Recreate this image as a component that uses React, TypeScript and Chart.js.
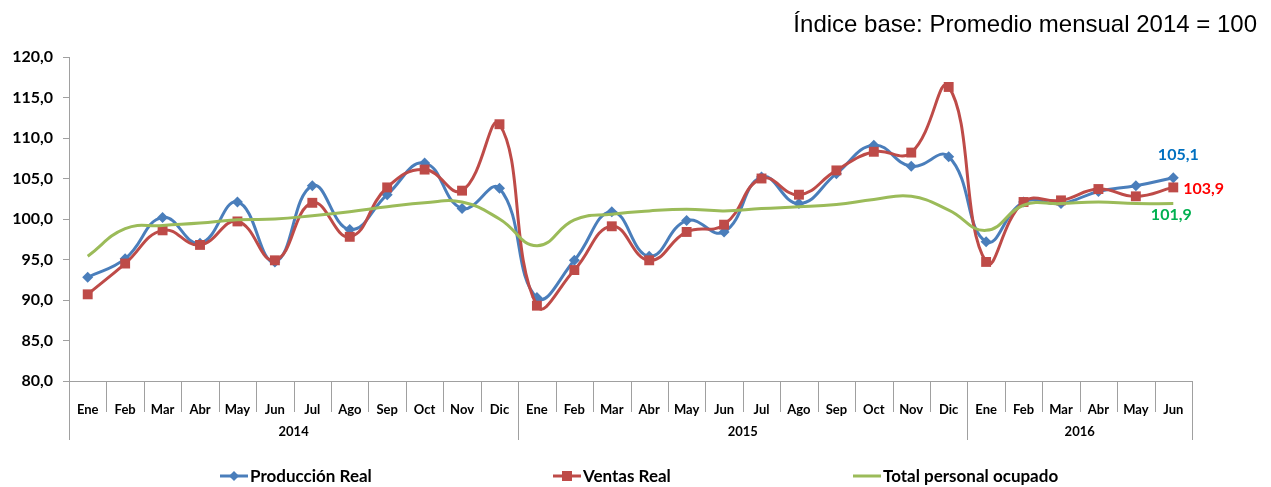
import { useEffect, useRef } from 'react';
import { Chart, registerables } from 'chart.js';

Chart.register(...registerables);

const months = [
  'Ene', 'Feb', 'Mar', 'Abr', 'May', 'Jun', 'Jul', 'Ago', 'Sep', 'Oct', 'Nov', 'Dic',
  'Ene', 'Feb', 'Mar', 'Abr', 'May', 'Jun', 'Jul', 'Ago', 'Sep', 'Oct', 'Nov', 'Dic',
  'Ene', 'Feb', 'Mar', 'Abr', 'May', 'Jun',
];
const years = ['2014', '2015', '2016'];
const yearSpans = [12, 12, 6];

const produccion = [
  92.8, 95.1, 100.2, 97.0, 102.1, 94.7, 104.1, 98.7, 103.0, 106.9, 101.3, 103.8,
  90.3, 94.9, 100.9, 95.4, 99.8, 98.4, 105.2, 101.9, 105.6, 109.1, 106.5, 107.7,
  97.2, 102.1, 101.9, 103.4, 104.1, 105.1,
];
const ventas = [
  90.7, 94.5, 98.6, 96.8, 99.7, 94.9, 102.0, 97.8, 103.9, 106.1, 103.5, 111.7,
  89.3, 93.7, 99.1, 94.9, 98.4, 99.3, 105.0, 103.0, 106.0, 108.3, 108.2, 116.3,
  94.7, 102.1, 102.3, 103.7, 102.8, 103.9,
];
const personal = [
  95.4, 98.8, 99.2, 99.5, 99.9, 100.0, 100.4, 100.9, 101.5, 102.0, 102.1, 100.0,
  96.7, 99.9, 100.6, 101.0, 101.2, 101.0, 101.3, 101.5, 101.8, 102.4, 102.8, 101.1,
  98.6, 101.7, 101.9, 102.1, 101.9, 101.9,
];

const seriesNames = ['Producción Real', 'Ventas Real', 'Total personal ocupado'];
const lastValueLabels = ['105,1', '103,9', '101,9'];
const subtitle = 'Índice base: Promedio mensual 2014 = 100';

const yMin = 80;
const yMax = 120;
const yStep = 5;

const lineColors = ['#4A7EBB', '#BE4B48', '#9BBB59'];
const labelColors = ['#0070C0', '#FF0000', '#00B050'];
const markerStyles = ['rectRot', 'rect', false];

const FONT = 'Lato, "Open Sans", sans-serif';

const overlayPlugin = {
  id: 'overlay',
  afterDraw(chart: any) {
    const { ctx, chartArea } = chart;
    const xs = chart.scales.x;
    const n = months.length;
    const w = xs.getPixelForValue(1) - xs.getPixelForValue(0);
    const boundary = (i: number) => xs.getPixelForValue(i) - w / 2;
    ctx.save();
    // month / year separators
    ctx.strokeStyle = '#A0A0A0';
    ctx.lineWidth = 1;
    const yearBounds = new Set<number>();
    let acc = 0;
    yearBounds.add(0);
    yearSpans.forEach((s) => { acc += s; yearBounds.add(acc); });
    for (let i = 0; i <= n; i++) {
      const px = Math.round(boundary(i)) + 0.5;
      const bottom = yearBounds.has(i) ? 440 : 412;
      ctx.beginPath();
      ctx.moveTo(px, chartArea.bottom);
      ctx.lineTo(px, bottom);
      ctx.stroke();
    }
    // year labels
    ctx.fillStyle = '#000';
    ctx.font = `bold 13px ${FONT}`;
    ctx.textAlign = 'center';
    ctx.textBaseline = 'middle';
    let start = 0;
    years.forEach((yr, k) => {
      const end = start + yearSpans[k];
      const cx = (boundary(start) + boundary(end)) / 2;
      ctx.fillText(yr, cx, 432);
      start = end;
    });

    // last-value labels
    ctx.font = `bold 16px ${FONT}`;
    const offsets = [[5, -23, 'center'], [10, 1, 'left'], [-2, 11, 'center']];
    chart.data.datasets.forEach((ds: any, i: number) => {
      const meta = chart.getDatasetMeta(i);
      const pt = meta.data[meta.data.length - 1];
      ctx.fillStyle = labelColors[i];
      ctx.textAlign = offsets[i][2];
      ctx.fillText(lastValueLabels[i], pt.x + (offsets[i][0] as number), pt.y + (offsets[i][1] as number));
    });

    // legend
    const legendX = [220, 553, 853];
    const ly = 476;
    ctx.font = `bold 17px ${FONT}`;
    ctx.textAlign = 'left';
    ctx.textBaseline = 'middle';
    seriesNames.forEach((name, i) => {
      const x0 = legendX[i];
      ctx.strokeStyle = lineColors[i];
      ctx.lineWidth = 3;
      ctx.beginPath();
      ctx.moveTo(x0, ly);
      ctx.lineTo(x0 + 28, ly);
      ctx.stroke();
      ctx.fillStyle = lineColors[i];
      const cx = x0 + 14;
      if (markerStyles[i] === 'rectRot') {
        ctx.beginPath();
        ctx.moveTo(cx, ly - 5);
        ctx.lineTo(cx + 5, ly);
        ctx.lineTo(cx, ly + 5);
        ctx.lineTo(cx - 5, ly);
        ctx.closePath();
        ctx.fill();
      } else if (markerStyles[i] === 'rect') {
        ctx.fillRect(cx - 5, ly - 5, 10, 10);
      }
      ctx.fillStyle = '#000';
      ctx.fillText(name, x0 + 30, ly + 1);
    });

    // subtitle
    ctx.font = '24px "Liberation Sans", Arial, sans-serif';
    ctx.textAlign = 'right';
    ctx.textBaseline = 'alphabetic';
    ctx.fillStyle = '#000';
    ctx.fillText(subtitle, 1257, 32);
    ctx.restore();
  },
};

export default function App() {
  const ref = useRef<HTMLCanvasElement | null>(null);
  useEffect(() => {
    if (!ref.current) return;
    const mk = (i: number, data: number[], order: number) => ({
      label: seriesNames[i],
      data,
      borderColor: lineColors[i],
      backgroundColor: lineColors[i],
      borderWidth: 3,
      tension: 0.45,
      pointStyle: markerStyles[i] || 'circle',
      pointRadius: markerStyles[i] === 'rect' ? 7 : markerStyles[i] === 'rectRot' ? 5.5 : 0,
      pointBorderWidth: 0,
      pointBackgroundColor: lineColors[i],
      order,
    });
    const chart = new Chart(ref.current, {
      type: 'line',
      data: {
        labels: months,
        datasets: [mk(0, produccion, 3), mk(1, ventas, 2), mk(2, personal, 1)],
      },
      options: {
        animation: false,
        responsive: false,
        layout: { padding: { top: 57, right: 79, left: 0, bottom: 0 } },
        plugins: { legend: { display: false }, tooltip: { enabled: false } },
        scales: {
          x: {
            type: 'category',
            offset: true,
            grid: { display: false },
            border: { display: true, color: '#A0A0A0', width: 1 },
            ticks: {
              autoSkip: false,
              maxRotation: 0,
              padding: 13,
              color: '#000',
              font: { family: FONT, weight: 'bold', size: 13 },
            },
            afterFit: (s: any) => { s.height = 106; },
          },
          y: {
            min: yMin,
            max: yMax,
            grid: { drawOnChartArea: false, drawTicks: true, tickLength: 6, color: '#A0A0A0' },
            border: { display: true, color: '#A0A0A0', width: 1 },
            ticks: {
              stepSize: yStep,
              padding: 10,
              color: '#000',
              font: { family: FONT, weight: 'bold', size: 16 },
              callback: (v: any) => Number(v).toFixed(1).replace('.', ','),
            },
            afterFit: (s: any) => { s.width = 69; },
          },
        },
      },
      plugins: [overlayPlugin],
    } as any);
    return () => chart.destroy();
  }, []);
  return (
    <div style={{ position: 'fixed', left: 0, top: 0, width: 1271, height: 487, background: '#fff' }}>
      <canvas ref={ref} width={1271} height={487} style={{ width: 1271, height: 487 }} />
    </div>
  );
}
